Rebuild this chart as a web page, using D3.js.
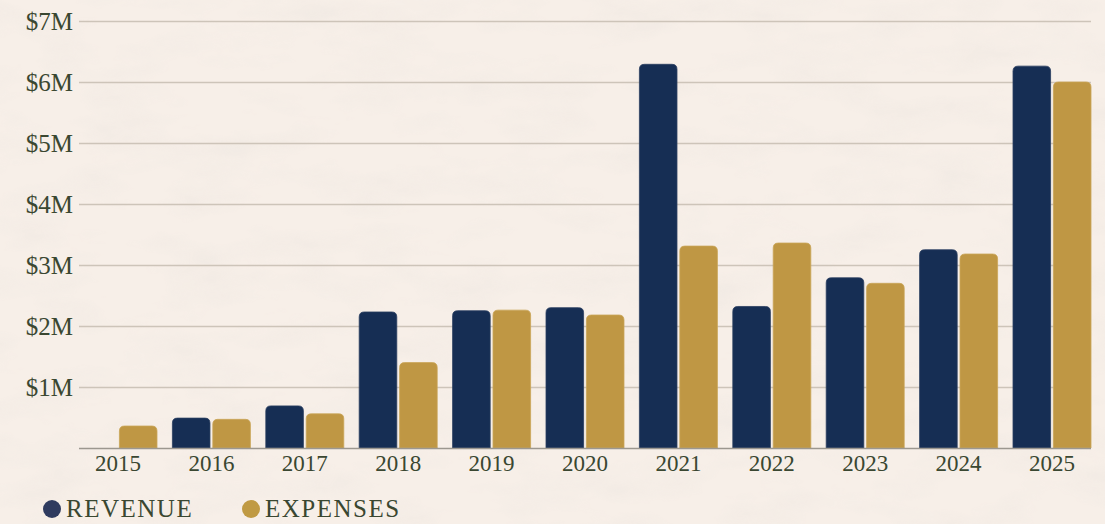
<!DOCTYPE html>
<html>
<head>
<meta charset="utf-8">
<script src="https://cdn.jsdelivr.net/npm/d3@7"></script>
<style>
  html, body { margin: 0; padding: 0; background: #f6eee7; }
  svg { display: block; }
  text { font-family: "Liberation Serif", "Times New Roman", serif; }
</style>
</head>
<body>
<svg id="chart" width="1105" height="524"></svg>
<script>
const years = ["2015","2016","2017","2018","2019","2020","2021","2022","2023","2024","2025"];
const revenue = [0, 0.49, 0.69, 2.23, 2.25, 2.30, 6.29, 2.32, 2.79, 3.25, 6.26];
const expenses = [0.36, 0.47, 0.56, 1.40, 2.26, 2.18, 3.31, 3.36, 2.70, 3.18, 6.00];
const seriesKeys = ["REVENUE", "EXPENSES"];
const seriesColors = ["#162e54", "#bf9744"];
const legendColors = ["#2f3b5f", "#c09a43"];
const yTicks = [1, 2, 3, 4, 5, 6, 7];

(function () {
const svg = d3.select("#chart");
const W = 1105, H = 524;

// parchment background
const defs = svg.append("defs");
const f = defs.append("filter").attr("id", "paper").attr("x", 0).attr("y", 0).attr("width", "100%").attr("height", "100%");
f.append("feTurbulence").attr("type", "fractalNoise").attr("baseFrequency", "0.012 0.03").attr("numOctaves", 4).attr("seed", 7).attr("result", "noise");
f.append("feColorMatrix").attr("type", "matrix")
  .attr("values", "0 0 0 0 0.78  0 0 0 0 0.74  0 0 0 0 0.70  0 0 0 -1.1 0.62");
svg.append("rect").attr("width", W).attr("height", H).attr("fill", "#f7efe8");
svg.append("rect").attr("width", W).attr("height", H).attr("filter", "url(#paper)").attr("opacity", 0.5);

const mLeft = 79, mRight = 1091, mTop = 21, mBottom = 448;
const y = d3.scaleLinear().domain([0, 7]).range([mBottom, mTop]);
const x = d3.scaleBand().domain(years).range([mLeft, mRight]).paddingInner(0.165).paddingOuter(0);
const x1 = d3.scaleBand().domain(seriesKeys).range([0, x.bandwidth()]).paddingInner(0.07);

// grid + y labels
const yAxis = d3.axisLeft(y).tickValues(yTicks).tickSize(-(mRight - mLeft)).tickFormat(d => "$" + d + "M").tickPadding(6);
const gy = svg.append("g").attr("transform", `translate(${mLeft},0)`).call(yAxis);
gy.select(".domain").remove();
gy.selectAll(".tick line").attr("stroke", "#cdc4b9").attr("stroke-width", 1.5);
gy.selectAll(".tick text").attr("fill", "#3a4731").attr("font-size", 25).attr("font-family", "Liberation Serif, serif");

// bars
function topRounded(x0, y0, w, h, r) {
  r = Math.min(r, h, w / 2);
  return `M${x0},${y0 + h}V${y0 + r}Q${x0},${y0} ${x0 + r},${y0}H${x0 + w - r}Q${x0 + w},${y0} ${x0 + w},${y0 + r}V${y0 + h}Z`;
}
const rows = years.map((yr, i) => ({ yr, vals: [revenue[i], expenses[i]] }));
const g = svg.append("g");
rows.forEach(row => {
  row.vals.forEach((v, k) => {
    if (v <= 0) return;
    const bx = x(row.yr) + x1(seriesKeys[k]);
    const by = y(v);
    g.append("path")
      .attr("d", topRounded(bx, by, x1.bandwidth(), y(0) - by, 5))
      .attr("fill", seriesColors[k])
      .attr("stroke", k === 0 ? "#2a3d60" : "#c9a457")
      .attr("stroke-width", 0.8);
  });
});

// x axis
const xAxis = d3.axisBottom(x).tickSize(0).tickPadding(6);
const gx = svg.append("g").attr("transform", `translate(0,${mBottom})`).call(xAxis);
gx.select(".domain").attr("stroke", "#9c978f").attr("stroke-width", 1.5).attr("d", `M${mLeft},0.5H${mRight}`);
gx.selectAll(".tick text").attr("fill", "#3a4731").attr("font-size", 23).attr("font-family", "Liberation Serif, serif").attr("dy", "0.75em");

// legend
const legendX = [52, 251];
seriesKeys.forEach((k, i) => {
  svg.append("circle").attr("cx", legendX[i]).attr("cy", 509).attr("r", 9).attr("fill", legendColors[i]);
  svg.append("text").attr("x", legendX[i] + 14).attr("y", 517)
    .attr("fill", "#3a4731").attr("font-size", 25).attr("letter-spacing", "1.5px")
    .text(k);
});
})();
</script>
</body>
</html>
